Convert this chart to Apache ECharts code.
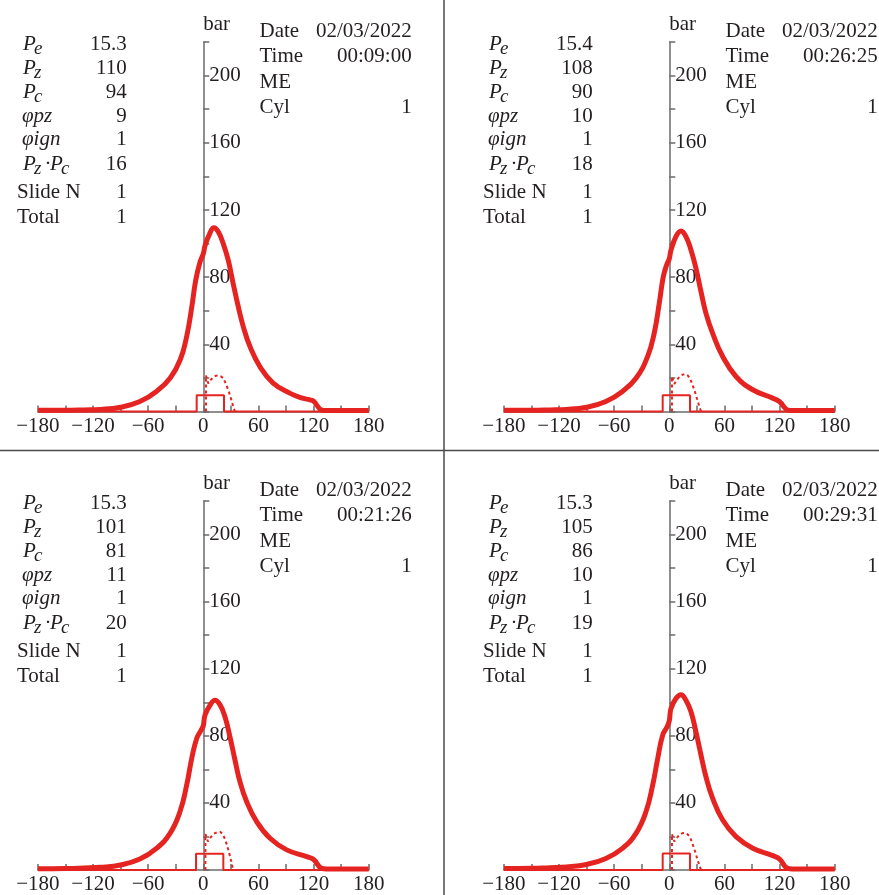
<!DOCTYPE html>
<html><head><meta charset="utf-8">
<script src="https://cdn.jsdelivr.net/npm/echarts@6/dist/echarts.min.js"></script>
<style>html,body{margin:0;padding:0;background:#fff}#c{width:879px;height:895px}</style>
</head><body><div id="c"></div>
<script>
// ---------------- data ----------------
const xMin = -180, xMax = 180, xTickStep = 30, xLabelStep = 60;
const yMin = 0, yMax = 220, yTickStep = 20, yLabelStep = 40, yLabelMax = 200;
const yAxisName = 'bar';

// cylinder pressure, bar, vs crank angle, deg
const pressure1 = [[-180,0.8],[-150,0.8],[-130,1.0],[-112,1.3],[-90,2.6],[-69,6],[-51,12],[-36,20],[-25,31],[-18,45],[-12.6,62],[-8.3,78],[-3.6,89],[0,94],[2,99],[7,106],[11.6,109.5],[16.3,107],[21.7,100],[27.2,90],[32.6,76],[38,62.6],[43.5,50.6],[50.8,38.7],[61.6,26.8],[76,17],[94,11],[108,8],[116,7],[120,6.2],[129,0.9],[134,0.6],[180,0.6]];
const pressure2 = [[-180,0.8],[-150,0.8],[-130,1.0],[-112,1.3],[-90,2.6],[-69,6],[-51,12],[-36,20],[-23.6,32.8],[-16.4,46.7],[-10.9,64.6],[-6.5,80.4],[-2.9,87.3],[0,91],[1.8,96],[7.2,104.2],[12.7,107.5],[18.1,104.2],[23.6,96.2],[29,85.3],[34.5,71.4],[39.9,58.5],[47.2,46.6],[58.1,32.8],[72.6,20.9],[90.8,13],[112.5,8],[119.8,6],[129,0.9],[134,0.6],[180,0.6]];
const pressure3 = [[-180,0.8],[-150,0.9],[-130,1.2],[-112,1.6],[-90,3],[-69,6.5],[-51,12.9],[-36.2,21.8],[-25.4,34.7],[-18.1,50.6],[-12.6,66.5],[-7.2,78.4],[-2.5,83.3],[0,86],[1.8,92.3],[7.2,98.2],[12.7,101.2],[18.1,98.6],[23.6,91.3],[29,79.4],[34.5,65.5],[39.9,52.6],[47.2,40.7],[58.1,28.8],[72.6,18.9],[90.8,12],[112.5,8],[119.8,6.4],[129,0.9],[134,0.6],[180,0.6]];
const pressure4 = [[-180,0.9],[-150,1.0],[-130,1.4],[-112,1.8],[-90,3.3],[-69,6.9],[-51,12.9],[-36.2,21.8],[-25.4,34.7],[-18.1,50.6],[-12.6,66.5],[-7.2,80.4],[-2.5,85.3],[0,89],[1.8,96.2],[7.2,102.2],[12.7,104.5],[18.1,101.2],[23.6,94.3],[29,82.4],[34.5,68.5],[39.9,55.6],[47.2,42.7],[58.1,29.8],[72.6,19.9],[90.8,13],[112.5,8.6],[119.8,6.6],[129,0.9],[134,0.6],[180,0.6]];

// thin rectangular trace
const needle1 = [[-180,0],[-7.2,0],[-7.2,9.7],[22.5,9.7],[22.5,0],[180,0]];
const needle2 = [[-180,0],[-7.2,0],[-7.2,9.7],[22.5,9.7],[22.5,0],[180,0]];
const needle3 = [[-180,0],[-7.9,0],[-7.9,9.7],[21.8,9.7],[21.8,0],[180,0]];
const needle4 = [[-180,0],[-7.2,0],[-7.2,9.8],[22.5,9.8],[22.5,0],[180,0]];

// dotted trace
const dotted1 = [[2.9,0],[2.9,21.5],[5.4,16.8],[8,18.8],[10.9,20.5],[13.5,21.3],[16.3,21.5],[19,21],[21.8,19.9],[24.5,16.5],[27.2,12.9],[30,8],[32.6,3],[34.4,0]];
const dotted2 = [[2.9,0],[2.9,20.8],[5.4,16.5],[8,18.6],[11,20.8],[14.5,22],[17.4,22.3],[20,21.5],[22.5,19.8],[25,16.2],[27.8,12],[30.5,7],[33,2.5],[34.6,0]];
const dotted3 = [[2.3,0],[2.3,21.5],[5,17],[8,19.5],[11.5,21.6],[15,22.6],[18.1,22.8],[20.5,21.8],[23,19.2],[25.5,15.3],[28,10.5],[30.5,5],[32.5,0]];
const dotted4 = [[2.9,0],[2.9,21.4],[5.4,17],[8,19],[11,21],[14.5,22],[17.4,22],[20,21.2],[22.5,19.5],[25,16],[27.8,11.5],[30.5,6.5],[33,2.2],[34.6,0]];

// info table values
const infoPe = ['15.3', '15.4', '15.3', '15.3'];
const infoPz = ['110', '108', '101', '105'];
const infoPc = ['94', '90', '81', '86'];
const infoPhiPz = ['9', '10', '11', '10'];
const infoPhiIgn = ['1', '1', '1', '1'];
const infoPzPc = ['16', '18', '20', '19'];
const infoSlide = ['1', '1', '1', '1'];
const infoTotal = ['1', '1', '1', '1'];
const infoDate = ['02/03/2022', '02/03/2022', '02/03/2022', '02/03/2022'];
const infoTime = ['00:09:00', '00:26:25', '00:21:26', '00:29:31'];
const infoEngine = ['ME', 'ME', 'ME', 'ME'];
const infoCyl = ['1', '1', '1', '1'];

// ---------------- layout / style ----------------
const pressures = [pressure1, pressure2, pressure3, pressure4];
const needles = [needle1, needle2, needle3, needle4];
const dotteds = [dotted1, dotted2, dotted3, dotted4];
const offsets = [[0, 0], [466, 0], [0, 459], [466, 459]];
const RED = '#e52421';
const AX = '#6b6b6b';
const TXT = '#231f20';
const FONT = 'Liberation Serif';
const FS = 21;
const MID = 7.1; // baseline -> middle offset
const GRID_W = 330.8, GRID_H = 369.6;
// y axis sits at x = 0 of the crank-angle scale
const Y_AXIS_SHIFT = GRID_W * (0 - xMin) / (xMax - xMin);

const minusFix = s => String(s).replace('-', '\u2212');

const grids = [], xAxes = [], yAxes = [], series = [], graphics = [];

offsets.forEach(([ox, oy], i) => {
  grids.push({ left: 37.9 + ox, top: 42 + oy, width: GRID_W, height: GRID_H });
  xAxes.push({
    type: 'value', gridIndex: i, min: xMin, max: xMax, interval: xTickStep,
    axisLine: { onZero: true, lineStyle: { color: AX, width: 1.5 } },
    axisTick: { inside: true, length: 6, lineStyle: { color: AX, width: 1.5 } },
    axisLabel: { margin: 4, fontFamily: FONT, fontSize: FS, color: TXT,
      formatter: v => (v % xLabelStep === 0 ? minusFix(v) : '') },
    splitLine: { show: false }
  });
  yAxes.push({
    type: 'value', gridIndex: i, min: yMin, max: yMax, interval: yTickStep,
    position: 'left', offset: -Y_AXIS_SHIFT,
    name: yAxisName, nameLocation: 'end', nameGap: 7,
    nameTextStyle: { align: 'left', verticalAlign: 'bottom', fontFamily: FONT, fontSize: FS, color: TXT },
    axisLine: { onZero: false, lineStyle: { color: AX, width: 1.5 } },
    axisTick: { inside: true, length: 6, lineStyle: { color: AX, width: 1.5 } },
    axisLabel: { inside: true, margin: 6, fontFamily: FONT, fontSize: FS, color: TXT,
      formatter: v => (v > 0 && v <= yLabelMax && v % yLabelStep === 0 ? String(v) : '') },
    splitLine: { show: false }
  });
  series.push({
    type: 'line', xAxisIndex: i, yAxisIndex: i, data: needles[i], showSymbol: false, clip: false,
    lineStyle: { color: RED, width: 2 }, z: 3, silent: true
  });
  series.push({
    type: 'line', xAxisIndex: i, yAxisIndex: i, data: dotteds[i], showSymbol: false, clip: false,
    lineStyle: { color: RED, width: 2, type: [3, 3] }, z: 3, silent: true
  });
  series.push({
    type: 'line', xAxisIndex: i, yAxisIndex: i, data: pressures[i], showSymbol: false, clip: false,
    smooth: 0.45,
    lineStyle: { color: RED, width: 5 }, z: 4, silent: true
  });

  // ---- info text ----
  const t = (x, y, text, opt = {}) => graphics.push({
    type: 'text', x: x, y: y, z: 10, silent: true,
    style: Object.assign({ text: text, fill: TXT, fontFamily: FONT, fontSize: FS,
      align: 'left', verticalAlign: 'middle' }, opt)
  });
  const it = { fontStyle: 'italic' };
  const sub = { fontStyle: 'italic', fontSize: 19 };
  const rows = [51.7, 75.3, 99.3, 123.3, 147, 171.7, 199.3, 225];
  const ym = r => oy + rows[r] - MID;
  const ys = r => oy + rows[r] + 4 - 6.4;
  const lx = ox + 23, vx = ox + 126.7;
  [['e', infoPe], ['z', infoPz], ['c', infoPc]].forEach(([s, arr], r) => {
    t(lx, ym(r), 'P', it);
    t(lx + 11, ys(r), s, sub);
    t(vx, ym(r), arr[i], { align: 'right' });
  });
  t(ox + 22, ym(3), '\u03C6pz', it); t(vx, ym(3), infoPhiPz[i], { align: 'right' });
  t(ox + 22, ym(4), '\u03C6ign', it); t(vx, ym(4), infoPhiIgn[i], { align: 'right' });
  t(lx, ym(5), 'P', it); t(lx + 11, ys(5), 'z', sub);
  t(lx + 21.5, ym(5), '\u00B7'); t(lx + 27, ym(5), 'P', it); t(lx + 38, ys(5), 'c', sub);
  t(vx, ym(5), infoPzPc[i], { align: 'right' });
  t(ox + 17, ym(6), 'Slide N'); t(vx, ym(6), infoSlide[i], { align: 'right' });
  t(ox + 17, ym(7), 'Total'); t(vx, ym(7), infoTotal[i], { align: 'right' });

  const rrows = [38.3, 63.3, 89.3, 115];
  const rx = ox + 259.5, rvx = ox + 411.7;
  const rlab = ['Date', 'Time', infoEngine[i], 'Cyl'];
  const rval = [infoDate[i], infoTime[i], '', infoCyl[i]];
  rrows.forEach((b, r) => {
    t(rx, oy + b - MID, rlab[r]);
    if (rval[r]) t(rvx, oy + b - MID, rval[r], { align: 'right' });
  });
});

// separators
graphics.push({ type: 'line', silent: true, z: 5, shape: { x1: 444, y1: 0, x2: 444, y2: 895 }, style: { stroke: '#4a4a4a', lineWidth: 1.5 } });
graphics.push({ type: 'line', silent: true, z: 5, shape: { x1: 0, y1: 450.5, x2: 879, y2: 450.5 }, style: { stroke: '#4a4a4a', lineWidth: 1.5 } });

const chart = echarts.init(document.getElementById('c'), null, { renderer: 'canvas' });
chart.setOption({
  animation: false,
  backgroundColor: '#fff',
  grid: grids, xAxis: xAxes, yAxis: yAxes, series: series,
  graphic: graphics
});
</script></body></html>
